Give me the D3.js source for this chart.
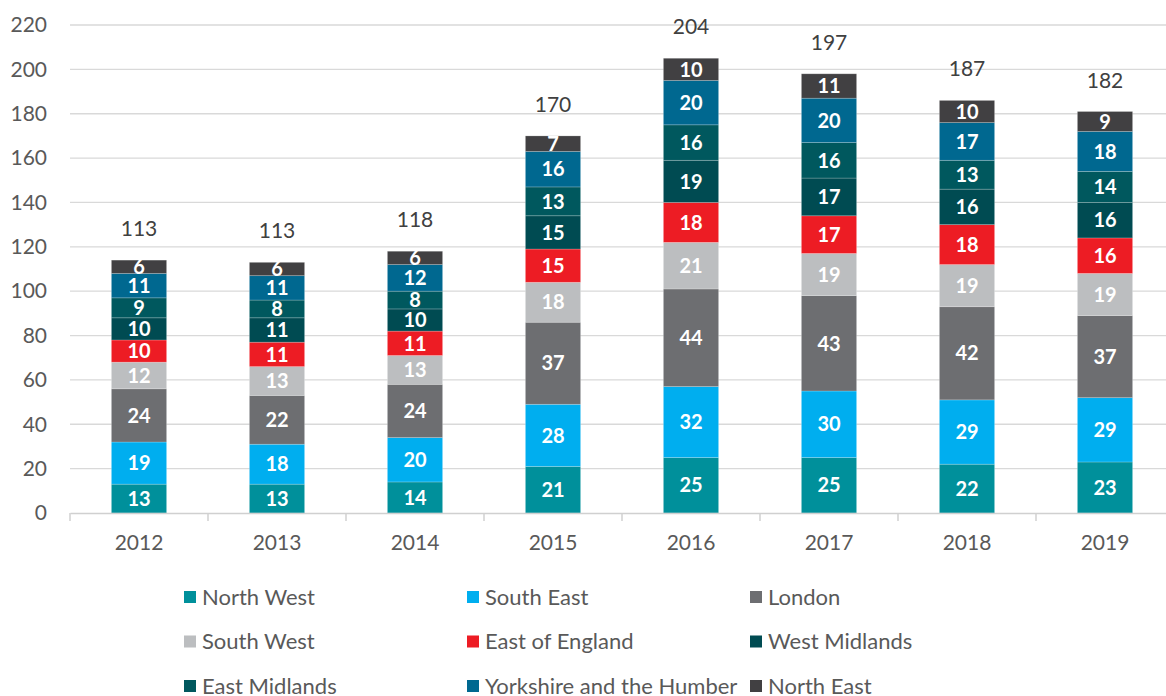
<!DOCTYPE html>
<html>
<head>
<meta charset="utf-8">
<script src="https://cdn.jsdelivr.net/npm/d3@7"></script>
<style>
  body { margin: 0; background: #fff; }
  svg { font-family: Lato, "Open Sans", sans-serif; }
</style>
</head>
<body>
<div id="chart"></div>
<script>
// Chart size and plot area
const w = 1166;
const h = 696;
const plotLeft = 70;
const plotRight = 1174;   // plot runs a little past the right edge, like the original
const plotTop = 25;
const plotBottom = 513;

// Data
const years = ["2012", "2013", "2014", "2015", "2016", "2017", "2018", "2019"];
const regions = ["North West", "South East", "London", "South West", "East of England",
  "West Midlands", "East Midlands", "Yorkshire and the Humber", "North East"];
const northWest = [13, 13, 14, 21, 25, 25, 22, 23];
const southEast = [19, 18, 20, 28, 32, 30, 29, 29];
const london = [24, 22, 24, 37, 44, 43, 42, 37];
const southWest = [12, 13, 13, 18, 21, 19, 19, 19];
const eastOfEngland = [10, 11, 11, 15, 18, 17, 18, 16];
const westMidlands = [10, 11, 10, 15, 19, 17, 16, 16];
const eastMidlands = [9, 8, 8, 13, 16, 16, 13, 14];
const yorkshire = [11, 11, 12, 16, 20, 20, 17, 18];
const northEast = [6, 6, 6, 7, 10, 11, 10, 9];
const totals = [113, 113, 118, 170, 204, 197, 187, 182];
const yTicks = [0, 20, 40, 60, 80, 100, 120, 140, 160, 180, 200, 220];

const colors = ["#00909b", "#00aeef", "#6d6e71", "#bcbec0", "#ed1c24",
  "#004b52", "#00585e", "#006890", "#414042"];

// Build one row per year for d3.stack
const seriesValues = [northWest, southEast, london, southWest, eastOfEngland,
  westMidlands, eastMidlands, yorkshire, northEast];
const rows = years.map((y, i) => {
  const row = { year: y, total: totals[i] };
  regions.forEach((r, j) => { row[r] = seriesValues[j][i]; });
  return row;
});

const svg = d3.select("#chart").append("svg")
  .attr("width", w)
  .attr("height", h);

const xScale = d3.scaleBand()
  .domain(years)
  .range([plotLeft, plotRight])
  .paddingInner(0.6)
  .paddingOuter(0.3);

const yScale = d3.scaleLinear()
  .domain([0, 220])
  .range([plotBottom, plotTop]);

const colorScale = d3.scaleOrdinal().domain(regions).range(colors);

// Gridlines
svg.append("g")
  .selectAll("line")
  .data(yTicks.filter(t => t > 0))
  .enter()
  .append("line")
  .attr("x1", plotLeft)
  .attr("x2", w)
  .attr("y1", d => yScale(d))
  .attr("y2", d => yScale(d))
  .attr("stroke", "#d9d9d9")
  .attr("stroke-width", 1.3);

// Y axis labels
const yAxis = d3.axisLeft(yScale).tickValues(yTicks).tickSize(0).tickPadding(23);
svg.append("g")
  .attr("transform", `translate(${plotLeft},0)`)
  .call(yAxis)
  .call(g => g.select(".domain").remove())
  .selectAll("text")
  .attr("fill", "#595959")
  .style("font-size", "21px")
  .style("font-family", "Lato, sans-serif");

// Stacked bars
const stacked = d3.stack().keys(regions)(rows);

const layers = svg.append("g")
  .selectAll("g")
  .data(stacked)
  .enter()
  .append("g")
  .attr("fill", d => colorScale(d.key));

layers.selectAll("rect")
  .data(d => d)
  .enter()
  .append("rect")
  .attr("x", d => xScale(d.data.year))
  .attr("y", d => yScale(d[1]))
  .attr("width", xScale.bandwidth())
  .attr("height", d => yScale(d[0]) - yScale(d[1]))
  .attr("stroke", "#ffffff")
  .attr("stroke-opacity", 0.25)
  .attr("stroke-width", 0.8);

// Segment labels
layers.selectAll("text")
  .data(d => d)
  .enter()
  .append("text")
  .attr("x", d => xScale(d.data.year) + xScale.bandwidth() / 2)
  .attr("y", d => (yScale(d[0]) + yScale(d[1])) / 2)
  .attr("dy", "0.36em")
  .attr("text-anchor", "middle")
  .attr("fill", "#ffffff")
  .style("font-size", "20px")
  .style("font-weight", "bold")
  .text(d => d[1] - d[0]);

// X axis
const xAxis = d3.axisBottom(xScale).tickSize(0).tickPadding(22);
svg.append("g")
  .attr("transform", `translate(0,${plotBottom})`)
  .call(xAxis)
  .call(g => g.select(".domain").attr("stroke", "#d0d0d0").attr("stroke-width", 1.5))
  .selectAll("text")
  .attr("fill", "#595959")
  .style("font-size", "21px")
  .style("font-family", "Lato, sans-serif");

// Tick marks between categories
svg.append("g")
  .selectAll("line")
  .data(years.concat(["end"]))
  .enter()
  .append("line")
  .attr("x1", (d, i) => plotLeft + i * xScale.step())
  .attr("x2", (d, i) => plotLeft + i * xScale.step())
  .attr("y1", plotBottom)
  .attr("y2", plotBottom + 8)
  .attr("stroke", "#d0d0d0")
  .attr("stroke-width", 1.5);

// Totals above bars
svg.append("g")
  .selectAll("text")
  .data(rows)
  .enter()
  .append("text")
  .attr("x", d => xScale(d.year) + xScale.bandwidth() / 2)
  .attr("y", (d, i) => yScale(stacked[stacked.length - 1][i][1]) - 24)
  .attr("text-anchor", "middle")
  .attr("fill", "#404040")
  .style("font-size", "21px")
  .text(d => d.total);

// Legend, three columns
const legend = svg.append("g")
  .selectAll("g")
  .data(regions)
  .enter()
  .append("g")
  .attr("transform", (d, i) => `translate(${184 + (i % 3) * 283},${597 + Math.floor(i / 3) * 44.5})`);

legend.append("rect")
  .attr("x", 0)
  .attr("y", -6)
  .attr("width", 12)
  .attr("height", 12)
  .attr("fill", d => colorScale(d));

legend.append("text")
  .attr("x", 18)
  .attr("y", 0)
  .attr("dy", "0.36em")
  .attr("fill", "#595959")
  .style("font-size", "22px")
  .text(d => d);
</script>
</body>
</html>
